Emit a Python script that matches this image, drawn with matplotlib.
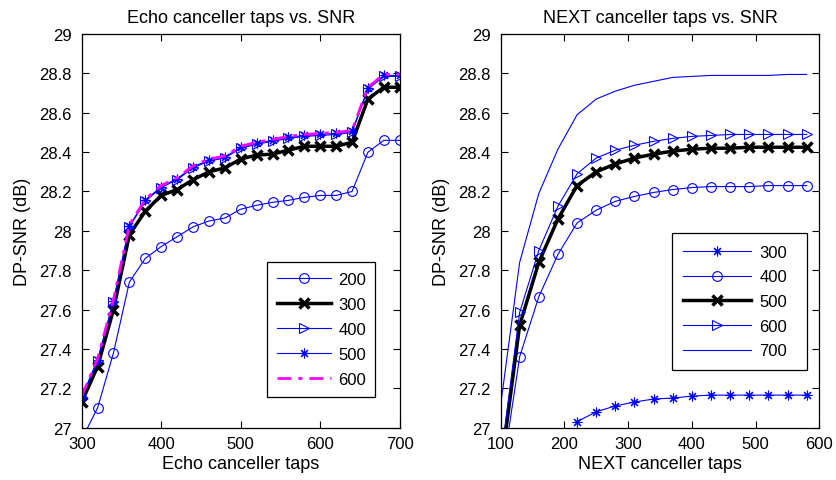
import matplotlib
matplotlib.use("Agg")
import matplotlib.pyplot as plt
from matplotlib.ticker import FuncFormatter

plt.rcParams['font.family'] = ['Liberation Sans', 'DejaVu Sans']

# ---------------- Left: Echo canceller taps ----------------
echo_taps = [300, 320, 340, 360, 380, 400, 420, 440, 460, 480, 500,
             520, 540, 560, 580, 600, 620, 640, 660, 680, 700]
echo_200 = [26.94, 27.10, 27.38, 27.74, 27.86, 27.92, 27.97, 28.02, 28.05, 28.065, 28.11,
            28.13, 28.145, 28.155, 28.17, 28.18, 28.18, 28.20, 28.40, 28.46, 28.46]
echo_300 = [27.13, 27.31, 27.60, 27.98, 28.10, 28.18, 28.21, 28.26, 28.30, 28.32, 28.365,
            28.385, 28.39, 28.41, 28.43, 28.43, 28.43, 28.45, 28.67, 28.73, 28.73]
echo_400 = [27.15, 27.34, 27.64, 28.02, 28.15, 28.22, 28.26, 28.32, 28.355, 28.37, 28.42,
            28.44, 28.455, 28.47, 28.48, 28.485, 28.49, 28.50, 28.72, 28.785, 28.785]
echo_500 = [27.155, 27.345, 27.645, 28.025, 28.155, 28.225, 28.265, 28.325, 28.36, 28.375, 28.425,
            28.445, 28.46, 28.475, 28.485, 28.49, 28.495, 28.505, 28.725, 28.79, 28.79]
echo_600 = [27.16, 27.35, 27.65, 28.03, 28.16, 28.23, 28.27, 28.33, 28.365, 28.38, 28.43,
            28.45, 28.465, 28.48, 28.49, 28.495, 28.50, 28.51, 28.73, 28.795, 28.795]

# ---------------- Right: NEXT canceller taps ----------------
next_taps = [100, 130, 160, 190, 220, 250, 280, 310, 340, 370, 400,
             430, 460, 490, 520, 550, 580]
next_300_taps = [220, 250, 280, 310, 340, 370, 400, 430, 460, 490, 520, 550, 580]
next_300 = [27.03, 27.08, 27.11, 27.13, 27.145, 27.15, 27.16, 27.165, 27.165,
            27.165, 27.165, 27.165, 27.165]
next_400 = [26.71, 27.36, 27.665, 27.88, 28.04, 28.105, 28.15, 28.175, 28.195, 28.21, 28.22,
            28.225, 28.225, 28.225, 28.23, 28.23, 28.23]
next_500 = [26.78, 27.52, 27.84, 28.06, 28.23, 28.30, 28.34, 28.37, 28.39, 28.405, 28.415,
            28.42, 28.42, 28.425, 28.425, 28.425, 28.425]
next_600 = [26.83, 27.585, 27.90, 28.125, 28.29, 28.37, 28.41, 28.435, 28.455, 28.47, 28.48,
            28.485, 28.49, 28.49, 28.49, 28.49, 28.49]
next_700 = [27.11, 27.84, 28.19, 28.415, 28.59, 28.67, 28.71, 28.74, 28.76, 28.78, 28.785,
            28.79, 28.79, 28.79, 28.79, 28.795, 28.795]

yticks = [27, 27.2, 27.4, 27.6, 27.8, 28, 28.2, 28.4, 28.6, 28.8, 29]

BLUE = '#0000ff'
MAG = '#ff00ff'
ast = (8, 2, 0)

W, H = 837.0, 481.0
fig = plt.figure(figsize=(8.37, 4.81), dpi=100)
ax1 = fig.add_axes([0.0976, 0.109, 0.380, 0.818])
ax2 = fig.add_axes([0.598, 0.109, 0.381, 0.818])

ax1.plot(echo_taps, echo_200, color=BLUE, lw=0.8, marker='o', ms=7, mfc='none', mec=BLUE, mew=0.8, label='200')
ax1.plot(echo_taps, echo_300, color='black', lw=2.5, marker='x', ms=7, mec='black', mew=2.5, label='300')
ax1.plot(echo_taps, echo_400, color=BLUE, lw=0.8, marker='>', ms=7, mfc='none', mec=BLUE, mew=0.8, label='400')
ax1.plot(echo_taps, echo_500, color=BLUE, lw=0.8, marker=ast, ms=7, mec=BLUE, mew=0.8, label='500')
ax1.plot(echo_taps, echo_600, color=MAG, lw=2.0, ls=(0, (5, 2.5, 1.5, 2.5)), label='600')

ax2.plot(next_300_taps, next_300, color=BLUE, lw=0.8, marker=ast, ms=7, mec=BLUE, mew=0.8, label='300')
ax2.plot(next_taps, next_400, color=BLUE, lw=0.8, marker='o', ms=7, mfc='none', mec=BLUE, mew=0.8, label='400')
ax2.plot(next_taps, next_500, color='black', lw=2.5, marker='x', ms=7, mec='black', mew=2.5, label='500')
ax2.plot(next_taps, next_600, color=BLUE, lw=0.8, marker='>', ms=7, mfc='none', mec=BLUE, mew=0.8, label='600')
ax2.plot(next_taps, next_700, color=BLUE, lw=0.8, label='700')

fmt = FuncFormatter(lambda v, p: ('%g' % round(v, 2)))
for ax, xl, title, xt in [(ax1, (300, 700), 'Echo canceller taps vs. SNR', [300, 400, 500, 600, 700]),
                          (ax2, (100, 600), 'NEXT canceller taps vs. SNR', [100, 200, 300, 400, 500, 600])]:
    ax.set_xlim(*xl)
    ax.set_ylim(27, 29)
    ax.set_xticks(xt)
    ax.set_yticks(yticks)
    ax.yaxis.set_major_formatter(fmt)
    ax.tick_params(direction='in', top=True, right=True, length=5, width=0.8, labelsize=12)
    ax.tick_params(axis='x', pad=6)
    ax.tick_params(axis='y', pad=7)
    for s in ax.spines.values():
        s.set_linewidth(0.9)
    ax.set_title(title, fontsize=13, pad=9)
    ax.set_ylabel('DP-SNR (dB)', fontsize=13, labelpad=6)

ax1.set_xlabel('Echo canceller taps', fontsize=13, labelpad=3)
ax2.set_xlabel('NEXT canceller taps', fontsize=13, labelpad=3)

# legend boxes (left, top, right, bottom in pixels)
l1 = (266.7, 263.3, 375.0, 399.0)
l2 = (671.7, 234.0, 806.7, 368.3)

leg1 = ax1.legend(loc='upper left',
                  bbox_to_anchor=(l1[0] / W, 1 - l1[3] / H, (l1[2] - l1[0]) / W, (l1[3] - l1[1]) / H),
                  bbox_transform=fig.transFigure, mode='expand', fontsize=12, frameon=True,
                  fancybox=False, edgecolor='black', framealpha=1, handlelength=3.25,
                  handletextpad=0.44, labelspacing=0.6, borderpad=0.6, borderaxespad=0)
leg1.get_frame().set_linewidth(0.9)
leg2 = ax2.legend(loc='upper left',
                  bbox_to_anchor=(l2[0] / W, 1 - l2[3] / H, (l2[2] - l2[0]) / W, (l2[3] - l2[1]) / H),
                  bbox_transform=fig.transFigure, mode='expand', fontsize=12, frameon=True,
                  fancybox=False, edgecolor='black', framealpha=1, handlelength=4.07,
                  handletextpad=0.5, labelspacing=0.58, borderpad=0.7, borderaxespad=0)
leg2.get_frame().set_linewidth(0.9)

fig.savefig('out.png', dpi=100)
